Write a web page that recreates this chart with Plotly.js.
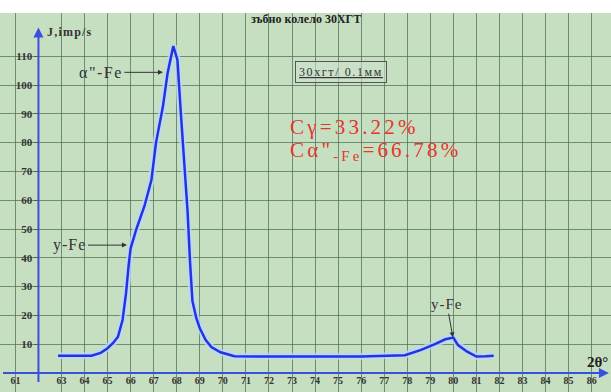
<!DOCTYPE html>
<html>
<head>
<meta charset="utf-8">
<script src="https://cdn.plot.ly/plotly-3.0.1.min.js"></script>
<style>html,body{margin:0;padding:0;background:#fff;}#chart{width:611px;height:392px;}</style>
</head>
<body>
<div id="chart"></div>
<script>
// 2θ angle (degrees) and intensity J (imp/s)
const twoTheta = [62.85, 63.5, 64.3, 64.7, 65.0, 65.25, 65.45, 65.65, 65.8, 65.92, 66.0, 66.25, 66.6, 66.9, 67.1, 67.4, 67.6, 67.85, 68.03, 68.18, 68.32, 68.47, 68.58, 68.68, 68.85, 69.0, 69.25, 69.5, 69.9, 70.5, 72, 74, 76, 77.9, 78.6, 79.2, 79.65, 80.0, 80.2, 80.6, 81.0, 81.4, 81.75];
const intensity = [6, 6, 6, 7, 8.6, 10.5, 12.6, 18.4, 27.7, 38, 43.3, 50, 58, 67, 80, 92.5, 104, 113.5, 108.7, 90, 72.8, 56, 38, 25, 19, 15.5, 11.5, 9, 7.2, 5.8, 5.7, 5.7, 5.7, 6.2, 8, 10, 11.7, 12.3, 9.7, 7.4, 5.7, 5.8, 6];

const xTickVals = [61, 63, 64, 65, 66, 67, 68, 69, 70, 71, 72, 73, 74, 75, 76, 77, 78, 79, 80, 81, 82, 83, 84, 85, 86];
const xTickText = xTickVals.map(v => '<b>' + v + '</b>');
const yTickVals = [10, 20, 30, 40, 50, 60, 70, 80, 90, 100, 110];
const yTickText = yTickVals.map(v => '<b>' + v + '</b>');

const chartTitle = 'зъбно колело 30ХГТ';
const yLabel = 'J,imp/s';
const xLabel = '2θ°';
const sampleLabel = '30хгт/ 0.1мм';
const peakAlpha = 'α"-Fe';
const peakGamma = 'y-Fe';
const cGamma = 'Cγ=33.22%';
const cAlpha = 'Cα"<sub>-Fe</sub>=66.78%';

const serif = 'Liberation Serif, Times New Roman, serif';
const blue = '#2433e0';

const traces = [
  {x: twoTheta, y: intensity, type: 'scatter', mode: 'lines',
   line: {color: 'rgba(185,215,255,0.75)', width: 7}, hoverinfo: 'skip'},
  {x: twoTheta, y: intensity, type: 'scatter', mode: 'lines',
   line: {color: blue, width: 2.5}}
];

const layout = {
  width: 611, height: 392,
  margin: {l: 0, r: 0, t: 13, b: 0, pad: 0},
  paper_bgcolor: '#ffffff',
  plot_bgcolor: '#c6dfc1',
  showlegend: false,
  title: {text: '<b>' + chartTitle + '</b>', x: 0.501, xanchor: 'center', y: 0.951, yref: 'container', yanchor: 'middle',
          font: {family: serif, size: 12, color: '#222'}},
  xaxis: {range: [60.332, 86.839], anchor: 'free', position: 0.0501,
          tickvals: xTickVals, ticktext: xTickText, ticks: '', showline: false, zeroline: false,
          showgrid: true, gridcolor: 'rgba(70,105,80,0.7)', gridwidth: 1,
          tickfont: {family: serif, size: 10, color: '#333'}, fixedrange: true},
  yaxis: {range: [-6.6, 125.0], anchor: 'free', position: 0.0629,
          tickvals: yTickVals, ticktext: yTickText, ticks: 'outside', ticklen: 4, tickcolor: '#556',
          showline: false, zeroline: false,
          showgrid: true, gridcolor: 'rgba(70,105,80,0.7)', gridwidth: 1,
          tickfont: {family: serif, size: 11, color: '#333'}, fixedrange: true},
  annotations: [
    // axis arrows
    {x: 86.75, y: 0, ax: 60.332, ay: 0, axref: 'x', ayref: 'y', xref: 'x', yref: 'y', text: ' ',
     showarrow: true, arrowhead: 2, arrowsize: 1, arrowwidth: 2, arrowcolor: '#3a4fe0'},
    {x: 62, y: 120, ax: 62, ay: -6.6, axref: 'x', ayref: 'y', xref: 'x', yref: 'y', text: ' ',
     showarrow: true, arrowhead: 2, arrowsize: 1, arrowwidth: 2, arrowcolor: '#3a4fe0'},
    {x: 62.3, y: 118.4, xref: 'x', yref: 'y', xanchor: 'left', yanchor: 'middle', showarrow: false,
     text: '<b><span style="letter-spacing:1.2px">' + yLabel + '</span></b>', font: {family: serif, size: 12, color: '#333'}},
    {x: 86.25, y: 3.8, xref: 'x', yref: 'y', xanchor: 'center', yanchor: 'middle', showarrow: false,
     text: '<b>' + xLabel + '</b>', font: {family: serif, size: 15, color: '#222'}},
    // peak labels
    {x: 67.40, y: 104.4, xref: 'x', yref: 'y', ax: -62, ay: 0, showarrow: true, arrowhead: 2, arrowsize: 1,
     arrowwidth: 1, arrowcolor: '#333', text: '<span style="letter-spacing:1.5px">' + peakAlpha + '</span>',
     font: {family: serif, size: 16, color: '#333'}},
    {x: 65.84, y: 44.4, xref: 'x', yref: 'y', ax: -57, ay: 0, showarrow: true, arrowhead: 2, arrowsize: 1,
     arrowwidth: 1, arrowcolor: '#333', text: '<span style="letter-spacing:1px">' + peakGamma + '</span>',
     font: {family: serif, size: 16, color: '#333'}},
    {x: 79.98, y: 12.4, xref: 'x', yref: 'y', ax: -6, ay: -33, showarrow: true, arrowhead: 2, arrowsize: 1,
     arrowwidth: 1, arrowcolor: '#333', text: '<span style="letter-spacing:1px">' + peakGamma + '</span>',
     font: {family: serif, size: 15, color: '#333'}},
    // sample box
    {x: 75.13, y: 104.4, xref: 'x', yref: 'y', showarrow: false,
     text: '<span style="text-decoration:underline;letter-spacing:1.6px">' + sampleLabel + '</span>',
     font: {family: serif, size: 12, color: '#333'}, bordercolor: '#555', borderwidth: 1, borderpad: 3,
     bgcolor: 'rgba(205,225,205,0.6)'},
    // red compositions
    {x: 72.83, y: 85.4, xref: 'x', yref: 'y', xanchor: 'left', yanchor: 'middle', showarrow: false,
     text: '<span style="letter-spacing:3.2px">' + cGamma + '</span>', font: {family: serif, size: 21, color: '#e5352c'}},
    {x: 72.83, y: 77.0, xref: 'x', yref: 'y', xanchor: 'left', yanchor: 'middle', showarrow: false,
     text: '<span style="letter-spacing:3.2px">' + cAlpha + '</span>', font: {family: serif, size: 21, color: '#e5352c'}}
  ]
};

Plotly.newPlot('chart', traces, layout, {displayModeBar: false, staticPlot: true});
</script>
</body>
</html>
